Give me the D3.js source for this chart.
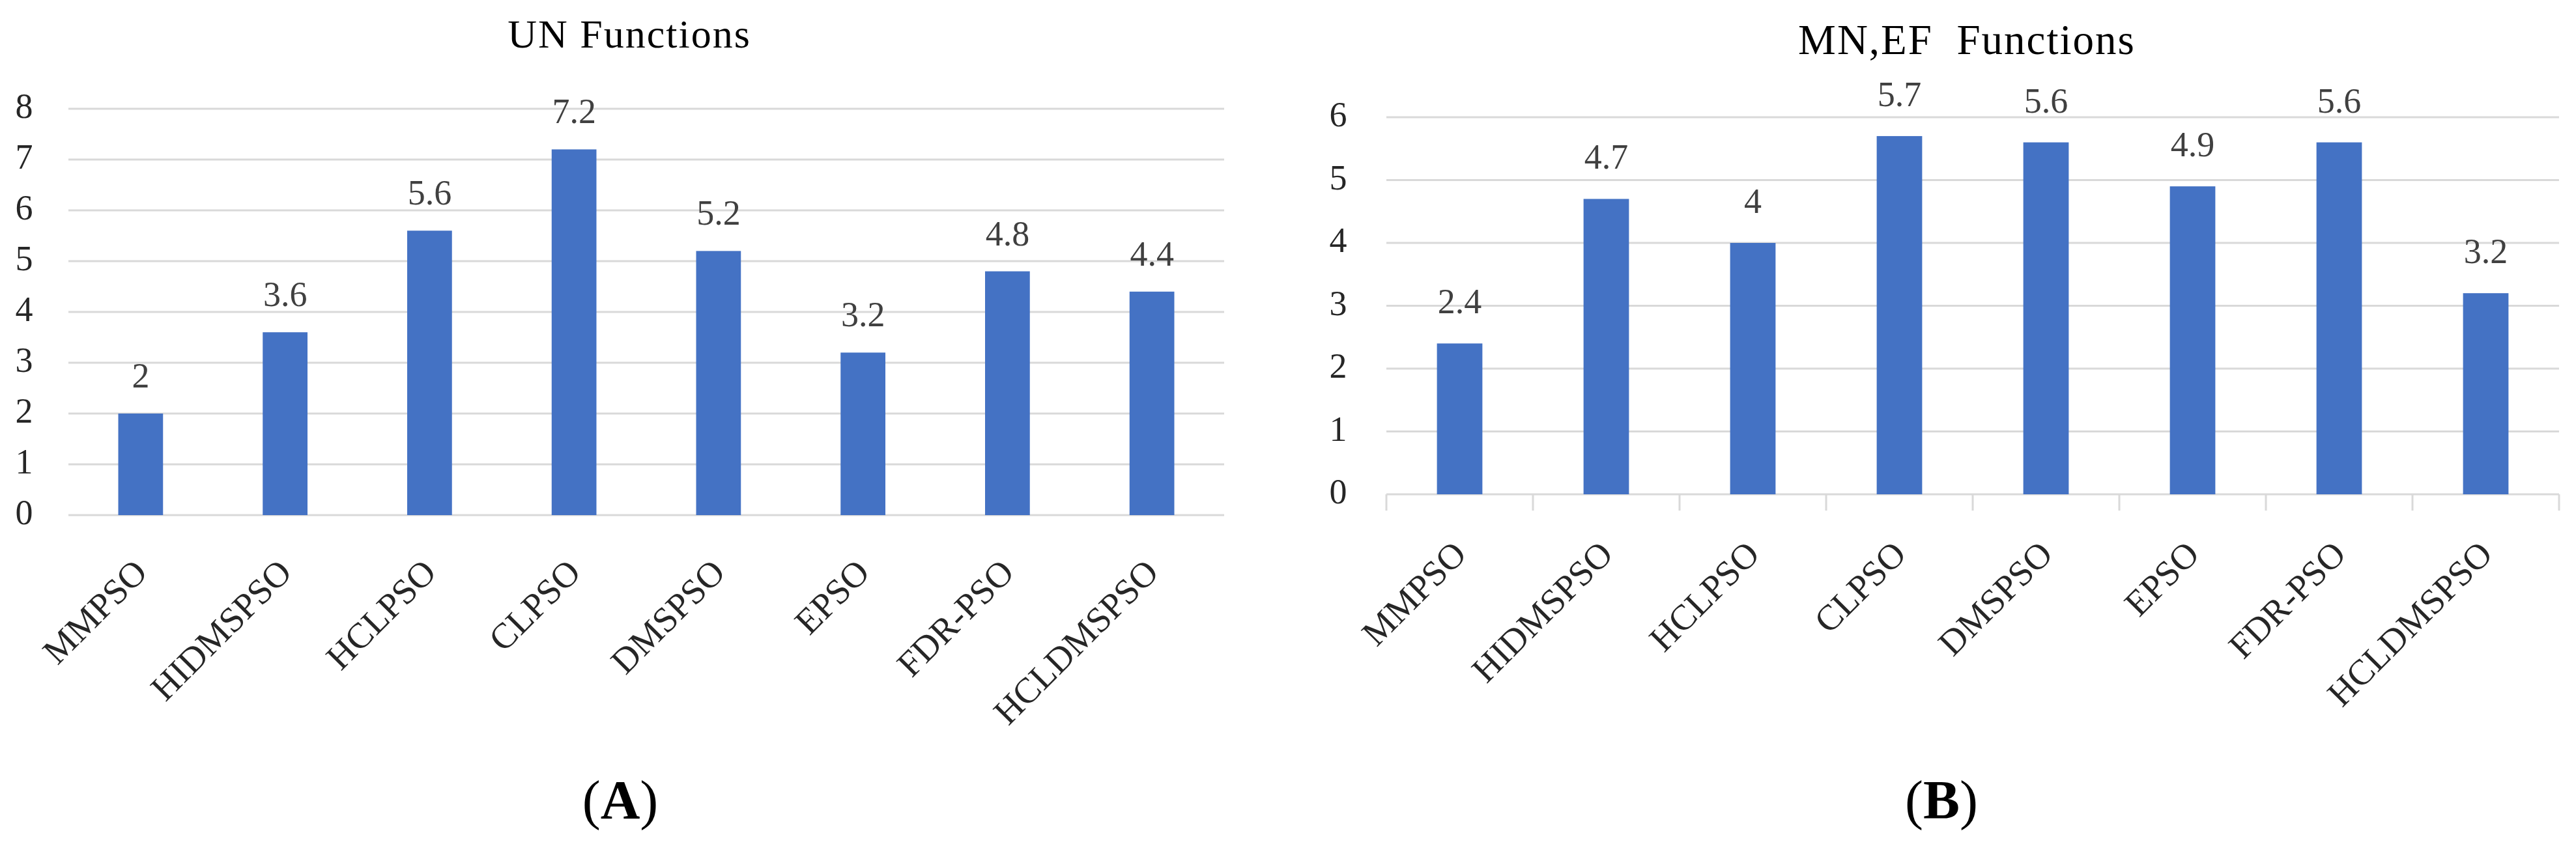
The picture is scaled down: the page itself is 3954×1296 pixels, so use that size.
<!DOCTYPE html>
<html>
<head>
<meta charset="utf-8">
<script src="https://cdn.jsdelivr.net/npm/d3@7"></script>
<style>
    html, body { margin: 0; padding: 0; background: #fff; }
    svg { display: block; }
    text { font-family: "Palatino Linotype", "Book Antiqua", "Liberation Serif", serif; }
</style>
</head>
<body>
<div id="svg-container"></div>
<script>
;(function () {

    var width = 3954
        , height = 1296
        , svg;

    var categories = ['MMPSO', 'HIDMSPSO', 'HCLPSO', 'CLPSO', 'DMSPSO', 'EPSO', 'FDR-PSO', 'HCLDMSPSO'];
    var unValues = [2, 3.6, 5.6, 7.2, 5.2, 3.2, 4.8, 4.4];
    var mnefValues = [2.4, 4.7, 4, 5.7, 5.6, 4.9, 5.6, 3.2];
    var unTicks = [0, 1, 2, 3, 4, 5, 6, 7, 8];
    var mnefTicks = [0, 1, 2, 3, 4, 5, 6];

    var barColor = '#4472C4'
        , gridColor = '#d9d9d9';

    function drawChart(opts) {
        var g = svg.append('g');

        var x = d3.scaleBand()
            .domain(categories)
            .range([opts.left, opts.right])
            .paddingInner(0.69)
            .paddingOuter(0.345);

        var y = d3.scaleLinear()
            .domain([0, d3.max(opts.ticks)])
            .range([opts.bottom, opts.top]);

        // gridlines
        g.selectAll('.grid')
            .data(opts.ticks)
            .enter().append('line')
            .attr('x1', opts.left)
            .attr('x2', opts.right)
            .attr('y1', function (d) { return y(d); })
            .attr('y2', function (d) { return y(d); })
            .attr('stroke', gridColor)
            .attr('stroke-width', 3);

        // y tick labels
        g.selectAll('.ytick')
            .data(opts.ticks)
            .enter().append('text')
            .attr('x', opts.tickX)
            .attr('y', function (d) { return y(d) + 14; })
            .attr('text-anchor', 'middle')
            .attr('font-size', 54)
            .attr('fill', '#262626')
            .text(function (d) { return d; });

        // category tick marks between bands
        if (opts.tickMarks) {
            var bounds = categories.map(function (c) { return x(c) - x.step() * x.paddingInner() / 2; });
            bounds.push(opts.right);
            g.selectAll('.xtick')
                .data(bounds)
                .enter().append('line')
                .attr('x1', function (d) { return d; })
                .attr('x2', function (d) { return d; })
                .attr('y1', opts.bottom)
                .attr('y2', opts.bottom + 25)
                .attr('stroke', gridColor)
                .attr('stroke-width', 3);
        }

        // bars
        g.selectAll('.bar')
            .data(opts.values)
            .enter().append('rect')
            .attr('x', function (d, i) { return x(categories[i]); })
            .attr('width', x.bandwidth())
            .attr('y', function (d) { return y(d); })
            .attr('height', function (d) { return opts.bottom - y(d); })
            .attr('fill', barColor);

        // data labels
        g.selectAll('.val')
            .data(opts.values)
            .enter().append('text')
            .attr('x', function (d, i) { return x(categories[i]) + x.bandwidth() / 2; })
            .attr('y', function (d) { return y(d) - opts.labelGap; })
            .attr('text-anchor', 'middle')
            .attr('font-size', 54)
            .attr('fill', '#404040')
            .text(function (d) { return d; });

        // rotated category labels
        g.selectAll('.cat')
            .data(categories)
            .enter().append('text')
            .attr('transform', function (d) {
                var cx = x(d) + x.bandwidth() / 2 + 13;
                return 'translate(' + cx + ',' + (opts.bottom + opts.catOffset) + ') rotate(-45)';
            })
            .attr('text-anchor', 'end')
            .attr('font-size', 55)
            .attr('fill', '#262626')
            .text(function (d) { return d; });

        // chart title
        g.append('text')
            .attr('x', opts.titleX)
            .attr('y', opts.titleY)
            .attr('text-anchor', 'middle')
            .attr('font-size', opts.titleSize)
            .attr('letter-spacing', 2)
            .style('white-space', 'pre')
            .attr('fill', '#000')
            .text(opts.title);

        // panel caption
        var cap = g.append('text')
            .attr('x', opts.captionX)
            .attr('y', 1257)
            .attr('text-anchor', 'middle')
            .attr('font-size', 84)
            .attr('fill', '#000')
            .style('font-family', '"Liberation Serif", "Times New Roman", serif');
        cap.append('tspan').text('(');
        cap.append('tspan').attr('font-weight', 'bold').text(opts.caption);
        cap.append('tspan').text(')');
    }

    function initialize() {
        svg = d3.select('#svg-container').append('svg')
            .attr('width', width)
            .attr('height', height);

        drawChart({
            values: unValues, ticks: unTicks,
            left: 105, right: 1879, top: 167, bottom: 791,
            tickX: 37, tickMarks: false, labelGap: 40, catOffset: 91,
            title: 'UN Functions', titleX: 966, titleY: 73, titleSize: 62,
            caption: 'A', captionX: 952
        });

        drawChart({
            values: mnefValues, ticks: mnefTicks,
            left: 2128, right: 3928, top: 180, bottom: 759,
            tickX: 2054, tickMarks: true, labelGap: 46, catOffset: 95,
            title: 'MN,EF  Functions', titleX: 3019, titleY: 83, titleSize: 65,
            caption: 'B', captionX: 2980
        });
    }

    initialize();

}());
</script>
</body>
</html>
